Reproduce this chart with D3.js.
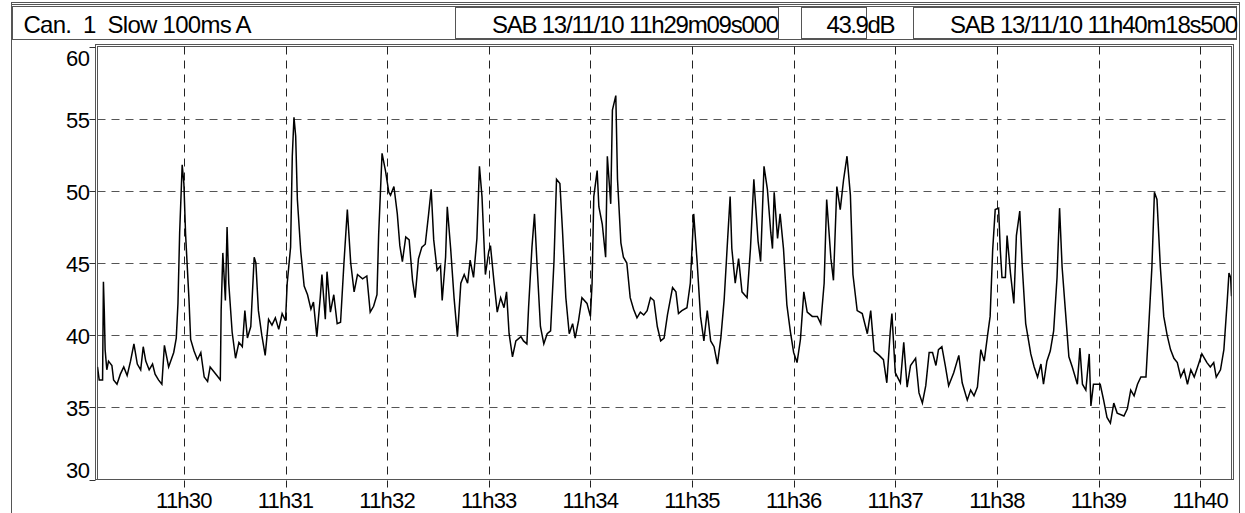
<!DOCTYPE html>
<html><head><meta charset="utf-8">
<script src="https://cdn.jsdelivr.net/npm/d3@7"></script>
<style>
html,body{margin:0;padding:0;background:#fff;}
svg{display:block;}
text{font-family:"Liberation Sans",Arial,sans-serif;fill:#000;white-space:pre;}
</style>
</head><body>
<svg id="chart" width="1245" height="513"></svg>
<script>
// ---- data ----
const headerLabels = ["Can.  1  Slow 100ms A", "SAB 13/11/10 11h29m09s000", "43.9dB", "SAB 13/11/10 11h40m18s500"];
const startTime = new Date(2010, 10, 13, 11, 29, 9, 0);
const endTime = new Date(2010, 10, 13, 11, 40, 18, 500);
const yTicks = [30, 35, 40, 45, 50, 55, 60];
const yDomain = [30, 60];
// seconds after 11h29m09s000
const offsets = [
0,1,3,3.5,4,4.5,5.5,6.5,8.5,9.5,11.5,13.5,15.5,17.5,19.5,21.5,23.5,25.5,27,28.5,30.5,32.5,34,36,38,39.5,42,45,46.5,47.5,48.5,50,51,52,54,55,57,59,61,63,65,66.5,68.5,70.5,72.5,73,74,75.5,76.5,77.5,79.5,81.5,83.5,85.5,87,88.5,90.5,92.5,93.5,95,97,99,101,103,105,107,109,111,112,114,115,116,117,118,120,122,124,126,127.5,129.5,131.5,132.5,134.5,135.5,137.5,139.5,141.5,143.5,145.5,147.5,149.5,151.5,153.5,156.5,159,161,163,165,166,168,170,172,
173,175,177,178.5,180,182,184,186,187.5,189.5,191.5,193.5,195.5,197,198.5,200.5,202.5,203.5,205.5,206.5,208.5,210.5,212.5,214.5,216.5,218.5,220,222,224,225.5,227,229,231,232,234,236,238,240,241.5,243,245,247,250,251.5,253.5,254.5,256.5,258,259.5,261.5,263.5,265.5,267.5,269.5,271,273,274.5,276.5,278.5,280.5,282,284,286,289,291,292,293,295,296,298,300,301,303,304,306,307,309,310.5,312.5,314.5,316.5,318.5,320.5,322.5,324.5,326.5,328.5,330.5,332.5,334.5,336.5,339.5,341.5,343,
345,348,350,352,354,356,358,360,362,364,366,368,370,372,373.5,374.5,376.5,378.5,380.5,383.5,385.5,387.5,390,391.5,393.5,395.5,397.5,398.5,399.5,401.5,403,405,407,409,411,413,415,417,419,422,425,427,429,430.5,433,434.5,436.5,438.5,440.5,442.5,444.5,446,448.5,451.5,454.5,456.5,458.5,461.5,464,466,468,469,471,474,476,478,480,483,485,487,489,491,493,495,496.5,498.5,500.5,502.5,505.5,508.5,510.5,513.5,
515.5,517.5,519.5,521.5,523.5,525.5,527,528.5,530,532,533,534,536,537,539,541,542.5,544.5,546,548,551,553,555,557,558.5,560.5,562.5,564.5,566.5,568,569.5,571.5,573.5,575.5,578.5,580,581.5,583.5,585.5,586.5,588,592,594,596,598,600,602,606,608,610,612,614,616,619,620.5,622.5,624,625.5,627.5,629.5,631.5,633.5,635.5,637.5,639.5,641.5,643.5,645.5,647.5,649.5,652,655,657,659,660.5,663,665,667,668,669,669.5
];
// level, dB(A)
const levels = [
37.8,36.9,36.9,43.7,41.7,39,37.6,38.2,37.9,36.9,36.6,37.3,37.8,37.2,38.2,39.4,38.0,37.6,39.2,38.2,37.6,38.0,37.3,36.9,36.6,39.3,37.8,38.8,39.8,42.2,47.1,51.8,50.5,47,42.5,39.7,38.9,38.3,38.8,37.1,36.8,37.8,37.5,37.2,36.9,41.7,45.7,42.4,47.5,43.6,40.2,38.4,39.5,39.2,41.7,39.8,40.6,45.4,45.0,41.7,40.0,38.6,41.1,40.7,41.2,40.4,41.5,41.0,43.6,46.1,52.4,55.1,53.8,49.4,45.8,43.4,42.8,41.8,42.3,39.9,42.6,44.2,41.1,44.4,41.6,42.8,40.8,40.9,45.0,48.7,45.0,43.0,44.2,43.9,44.1,41.6,42.0,42.8,47.0,52.6,51.4,49.9,
49.7,50.3,48.4,46.2,45.1,46.8,46.6,43.8,42.6,45.3,46.1,46.3,48.4,50.1,46.6,44.5,44.8,42.4,45.4,48.9,46.0,42.6,39.9,43.6,44.2,43.6,45.2,44.0,46.7,51.7,49.6,44.2,45.8,46.2,43.8,41.6,42.6,41.9,43.0,40.1,38.5,39.6,39.9,39.6,39.4,41.9,46.1,48.4,44.9,40.6,39.4,40.1,40.3,45.1,50.8,50.5,47.3,42.6,40.1,40.8,39.8,41.0,42.6,42.2,41.3,43.6,49.6,51.4,48.9,47.7,45.4,52.4,49.1,55.6,56.6,50.8,46.4,45.4,45.0,42.6,41.8,41.2,41.6,41.4,41.7,42.6,42.4,40.6,39.6,39.8,41.4,43.3,43.0,41.5,
41.7,41.9,43.6,48.4,45.1,41.3,39.6,41.7,39.6,39.2,38.0,39.8,42.5,46.6,49.6,46.0,43.6,45.3,43.0,42.6,46.0,50.8,46.5,45.1,51.7,50.1,47.1,46.0,49.9,46.7,48.4,46.0,42.1,40.3,38.8,38.1,39.7,43.0,41.6,41.3,41.3,40.8,43.6,49.4,45.3,43.8,50.3,48.7,50.8,52.4,49.7,44.2,41.7,41.5,40.1,41.7,38.9,38.6,38.3,36.7,40.2,41.5,37.4,36.7,39.5,36.4,37.9,38.4,36.0,35.3,36.5,38.8,38.8,37.9,39.0,39.2,37.9,36.5,37.4,38.6,36.7,35.5,
36.2,35.8,36.4,39.0,38.2,40.0,41.3,45.9,48.7,48.8,45.9,44.0,44.0,46.9,44.3,42.2,46.9,48.6,44.7,40.8,38.7,37.8,37.1,38.0,36.6,38.2,38.9,40.3,44.0,48.8,44.7,41.6,38.5,37.8,36.6,39.1,36.6,36.2,38.7,35.1,36.6,36.6,35.5,34.3,33.9,35.3,34.6,34.4,34.9,36.2,35.8,36.6,37.1,37.1,40.3,44.7,49.9,49.4,44.7,41.3,40.0,39.0,38.4,38.1,37.1,37.6,36.6,37.6,37.1,37.8,38.7,38.1,37.8,38.1,37.1,37.6,39.0,42.4,44.3,44.0,42.7
];

// ---- layout ----
const W = 1245, H = 513;
const plot = {left: 97.5, right: 1231.5, top: 46.5, bottom: 479.5};
const svg = d3.select("#chart");
const frameColor = "#555";

const x = d3.scaleTime().domain([startTime, endTime]).range([plot.left, plot.right]);
const y = d3.scaleLinear().domain(yDomain).range([plot.bottom, plot.top]);

const series = offsets.map((s, i) => ({t: new Date(startTime.getTime() + s * 1000), v: levels[i]}));

// outer frame
const outer = svg.append("g").attr("stroke", frameColor).attr("fill", "none");
outer.append("line").attr("x1", 11.5).attr("x2", 1239.5).attr("y1", 2.5).attr("y2", 2.5);
outer.append("line").attr("x1", 11.5).attr("x2", 1239.5).attr("y1", 4.5).attr("y2", 4.5);
outer.append("line").attr("x1", 11.5).attr("x2", 11.5).attr("y1", 2).attr("y2", H);
outer.append("line").attr("x1", 1239.5).attr("x2", 1239.5).attr("y1", 2).attr("y2", H);

// header
const hdr = svg.append("g");
hdr.append("rect").attr("x", 12.5).attr("y", 6.5).attr("width", 1224).attr("height", 33)
  .attr("fill", "none").attr("stroke", frameColor);
const boxes = [[455.5, 778.5], [801.5, 866.5], [913.5, 1236.5]];
boxes.forEach(b => hdr.append("rect").attr("x", b[0]).attr("y", 7.5).attr("width", b[1] - b[0]).attr("height", 31)
  .attr("fill", "none").attr("stroke", frameColor));
const hdrText = [
  {x: 23.5, anchor: "start", len: 228},
  {x: 779, anchor: "end", len: 287},
  {x: 826.5, anchor: "start", len: 69},
  {x: 1238, anchor: "end", len: 288}
];
hdr.selectAll("text.h").data(headerLabels).join("text").attr("class", "h")
  .attr("x", (d, i) => hdrText[i].x).attr("y", 33)
  .attr("text-anchor", (d, i) => hdrText[i].anchor)
  .attr("textLength", (d, i) => hdrText[i].len).attr("lengthAdjust", "spacing")
  .attr("font-size", 24).text(d => d);

// plot frame (double lines)
const pf = svg.append("g").attr("stroke", frameColor).attr("fill", "none");
pf.append("rect").attr("x", plot.left - 2).attr("y", plot.top - 2)
  .attr("width", plot.right - plot.left + 4).attr("height", plot.bottom - plot.top + 2);
pf.append("rect").attr("x", plot.left).attr("y", plot.top)
  .attr("width", plot.right - plot.left).attr("height", plot.bottom - plot.top);

// grid
const minuteTicks = x.ticks(d3.timeMinute.every(1));
const fmt = d3.timeFormat("%Hh%M");
svg.append("g").selectAll("line").data(yTicks.filter(v => v > yDomain[0] && v < yDomain[1])).join("line")
  .attr("x1", plot.left).attr("x2", plot.right)
  .attr("y1", d => Math.round(y(d)) + 0.5).attr("y2", d => Math.round(y(d)) + 0.5)
  .attr("stroke", "#555").attr("stroke-dasharray", "8,6");
svg.append("g").selectAll("line").data(minuteTicks).join("line")
  .attr("x1", d => Math.round(x(d)) + 0.5).attr("x2", d => Math.round(x(d)) + 0.5)
  .attr("y1", plot.top).attr("y2", plot.bottom + 8)
  .attr("stroke", "#222").attr("stroke-dasharray", "8,6");

// y ticks + labels
const yt = svg.append("g");
yt.selectAll("line").data(yTicks).join("line")
  .attr("x1", plot.left - 8).attr("x2", plot.left - 2)
  .attr("y1", d => Math.round(y(d)) + 0.5).attr("y2", d => Math.round(y(d)) + 0.5)
  .attr("stroke", "#333");
yt.selectAll("text").data(yTicks).join("text")
  .attr("x", plot.left - 8).attr("text-anchor", "end").attr("font-size", 22)
  .attr("letter-spacing", -0.5)
  .attr("y", d => Math.min(Math.max(y(d) + 9, plot.top + 19), plot.bottom - 2))
  .text(d => d);

// x labels
svg.append("g").selectAll("text").data(minuteTicks).join("text")
  .attr("x", d => x(d)).attr("y", 508).attr("text-anchor", "middle")
  .attr("font-size", 22).attr("letter-spacing", -0.8).text(d => fmt(d));

// series line
svg.append("clipPath").attr("id", "clip").append("rect")
  .attr("x", plot.left).attr("y", plot.top).attr("width", plot.right - plot.left).attr("height", plot.bottom - plot.top);
svg.append("path").datum(series)
  .attr("clip-path", "url(#clip)")
  .attr("fill", "none").attr("stroke", "#000").attr("stroke-width", 1.5)
  .attr("stroke-linejoin", "miter")
  .attr("d", d3.line().x(d => x(d.t)).y(d => y(d.v)).curve(d3.curveLinear));
</script>
</body></html>
